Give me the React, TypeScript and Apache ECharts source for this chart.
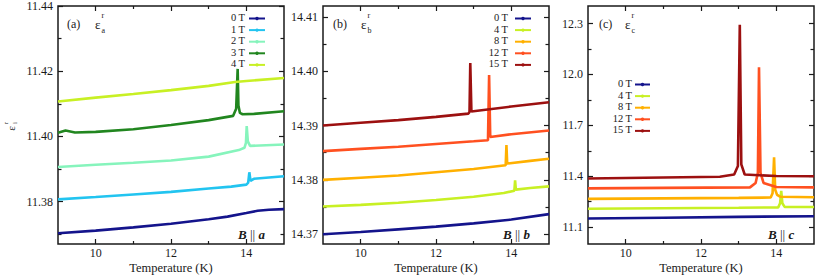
import React, { useEffect, useRef } from 'react';
import * as echarts from 'echarts';

const FONT = 'Liberation Serif, serif';
const INK = '#1a1a1a';

// ---------- shared x axis ----------
const xRange = [9, 15];
const xMajor = [10, 12, 14];
const xMinor = [11, 13];
const xTitle = 'Temperature (K)';

// ---------- panel (a): B || a ----------
const namesA = ['0 T', '1 T', '2 T', '3 T', '4 T'];
const colorsA = ['#14148c', '#22c4f0', '#86f4bc', '#21861f', '#c8f024'];
const yRangeA = [11.367, 11.44];
const yMajorA = [11.38, 11.4, 11.42, 11.44];
const yMinorA = [11.37, 11.39, 11.41, 11.43];

const tA0 = [9, 10, 11, 12, 13, 13.5, 14, 14.3, 14.6, 15];
const vA0 = [11.3703, 11.3711, 11.3721, 11.3732, 11.3746, 11.3754, 11.3765, 11.3772, 11.3775, 11.3777];
const tA1 = [9, 10, 11, 12, 13, 13.6, 14.0, 14.05, 14.08, 14.11, 14.2, 14.6, 15];
const vA1 = [11.3807, 11.3814, 11.3822, 11.383, 11.384, 11.3846, 11.3852, 11.3858, 11.389, 11.3864, 11.387, 11.3874, 11.3878];
const tA2 = [9, 10, 11, 12, 13, 13.8, 13.95, 13.99, 14.01, 14.04, 14.1, 15];
const vA2 = [11.3906, 11.3913, 11.3919, 11.3926, 11.3938, 11.3958, 11.3965, 11.398, 11.4032, 11.3985, 11.3971, 11.3975];
const tA3 = [9, 9.2, 9.45, 10, 11, 12, 13, 13.65, 13.73, 13.77, 13.79, 13.83, 13.9, 14.2, 15];
const vA3 = [11.4011, 11.4018, 11.4012, 11.4014, 11.4022, 11.4035, 11.405, 11.4063, 11.4085, 11.4207, 11.4095, 11.4072, 11.4068, 11.4069, 11.4077];
const tA4 = [9, 10, 11, 12, 13, 13.7, 14, 15];
const vA4 = [11.4107, 11.4119, 11.413, 11.4142, 11.4155, 11.4167, 11.417, 11.4179];

// ---------- panel (b): B || b ----------
const namesB = ['0 T', '4 T', '8 T', '12 T', '15 T'];
const colorsB = ['#14148c', '#c8f024', '#ffb000', '#ff5020', '#9c1010'];
const yRangeB = [14.3682, 14.412];
const yMajorB = [14.37, 14.38, 14.39, 14.4, 14.41];
const yMinorB = [14.375, 14.385, 14.395, 14.405];

const tB0 = [9, 10, 11, 12, 13, 14, 15];
const vB0 = [14.37, 14.3704, 14.3709, 14.3714, 14.372, 14.3727, 14.3737];
const tB4 = [9, 10, 11, 12, 13, 13.8, 14.08, 14.1, 14.12, 14.5, 15];
const vB4 = [14.3751, 14.3754, 14.3758, 14.3763, 14.3769, 14.3776, 14.378, 14.3799, 14.3782, 14.3785, 14.3788];
const tB8 = [9, 10, 11, 12, 13, 13.85, 13.87, 13.89, 14.5, 15];
const vB8 = [14.38, 14.3804, 14.3808, 14.3814, 14.382, 14.3827, 14.3864, 14.383, 14.3835, 14.3839];
const tB12 = [9, 10, 11, 12, 13, 13.38, 13.41, 13.44, 14, 15];
const vB12 = [14.3853, 14.3857, 14.3861, 14.3866, 14.3871, 14.3873, 14.3993, 14.3879, 14.3884, 14.3891];
const tB15 = [9, 10, 11, 12, 12.86, 12.89, 12.91, 12.94, 14, 15];
const vB15 = [14.39, 14.3905, 14.391, 14.3916, 14.3922, 14.3925, 14.4015, 14.3926, 14.3935, 14.3943];

// ---------- panel (c): B || c ----------
const namesC = ['0 T', '4 T', '8 T', '12 T', '15 T'];
const colorsC = ['#14148c', '#c8f024', '#ffb000', '#ff5020', '#9c1010'];
const yRangeC = [11.0, 12.404];
const yMajorC = [11.1, 11.4, 11.7, 12.0, 12.3];
const yMinorC = [11.25, 11.55, 11.85, 12.15];

const tC0 = [9, 11, 13, 15];
const vC0 = [11.15, 11.155, 11.16, 11.164];
const tC4 = [9, 11, 13, 14.05, 14.1, 14.13, 14.16, 14.22, 15];
const vC4 = [11.208, 11.211, 11.214, 11.216, 11.24, 11.314, 11.24, 11.219, 11.218];
const tC8 = [9, 11, 13, 13.85, 13.9, 13.94, 13.97, 14.02, 14.1, 15];
const vC8 = [11.266, 11.269, 11.272, 11.274, 11.3, 11.512, 11.32, 11.29, 11.279, 11.276];
const tC12 = [9, 11, 13.3, 13.45, 13.51, 13.54, 13.58, 13.66, 14, 15];
const vC12 = [11.328, 11.331, 11.334, 11.36, 11.42, 12.043, 11.42, 11.36, 11.336, 11.334];
const tC15 = [9, 11, 12.5, 12.88, 12.98, 13.03, 13.07, 13.16, 14, 15];
const vC15 = [11.386, 11.392, 11.397, 11.41, 11.46, 12.294, 11.47, 11.41, 11.401, 11.4];

const panels = [
  {
    left: 58, width: 226, names: namesA, colors: colorsA,
    yRange: yRangeA, yMajor: yMajorA, yMinor: yMinorA, digits: 2,
    t: [tA0, tA1, tA2, tA3, tA4], v: [vA0, vA1, vA2, vA3, vA4],
    tag: '(a)', sub: 'a', tagX: 67, epsX: 95,
    legendRight: 245, legendLine: [249, 265], legendY: 17.5, legendDy: 11.6,
    axisLetter: 'a', bX: 238,
  },
  {
    left: 323, width: 226, names: namesB, colors: colorsB,
    yRange: yRangeB, yMajor: yMajorB, yMinor: yMinorB, digits: 2,
    t: [tB0, tB4, tB8, tB12, tB15], v: [vB0, vB4, vB8, vB12, vB15],
    tag: '(b)', sub: 'b', tagX: 333, epsX: 361,
    legendRight: 508, legendLine: [515, 531], legendY: 17.5, legendDy: 11.6,
    axisLetter: 'b', bX: 503,
  },
  {
    left: 588, width: 226, names: namesC, colors: colorsC,
    yRange: yRangeC, yMajor: yMajorC, yMinor: yMinorC, digits: 1,
    t: [tC0, tC4, tC8, tC12, tC15], v: [vC0, vC4, vC8, vC12, vC15],
    tag: '(c)', sub: 'c', tagX: 599, epsX: 625,
    legendRight: 632, legendLine: [635, 650], legendY: 83.5, legendDy: 11.6,
    axisLetter: 'c', bX: 768,
  },
];

const TOP = 6;
const HEIGHT = 242;

const labelStyle = { fontFamily: FONT, fontSize: 12, color: INK };

function buildOption() {
  const grid: any[] = [];
  const xAxis: any[] = [];
  const yAxis: any[] = [];
  const series: any[] = [];
  const graphic: any[] = [];

  panels.forEach((p, gi) => {
    grid.push({
      left: p.left, top: TOP, width: p.width, height: HEIGHT,
      show: true, borderColor: INK, borderWidth: 1.5, backgroundColor: 'transparent',
    });
    const xb = {
      type: 'value', gridIndex: gi, min: xRange[0], max: xRange[1],
      axisLine: { show: false }, splitLine: { show: false },
    };
    const tick = (vals: number[], len: number) => ({
      show: true, inside: true, length: len, customValues: vals,
      lineStyle: { color: INK, width: 1.2 },
    });
    xAxis.push({
      ...xb, position: 'bottom', axisTick: tick(xMajor, 5),
      axisLabel: { ...labelStyle, customValues: xMajor, margin: 3 },
      name: xTitle, nameLocation: 'middle', nameGap: 17, nameMoveOverlap: false,
      nameTextStyle: { ...labelStyle, fontSize: 12.5 },
    });
    xAxis.push({ ...xb, position: 'bottom', axisTick: tick(xMinor, 3), axisLabel: { show: false } });
    xAxis.push({ ...xb, position: 'top', axisTick: tick(xMajor, 5), axisLabel: { show: false } });
    xAxis.push({ ...xb, position: 'top', axisTick: tick(xMinor, 3), axisLabel: { show: false } });

    const yb = {
      type: 'value', gridIndex: gi, min: p.yRange[0], max: p.yRange[1],
      axisLine: { show: false }, splitLine: { show: false }, scale: true,
    };
    yAxis.push({
      ...yb, position: 'left', axisTick: tick(p.yMajor, 5),
      axisLabel: {
        ...labelStyle, customValues: p.yMajor, margin: 5,
        formatter: (val: number) => val.toFixed(p.digits),
      },
    });
    yAxis.push({ ...yb, position: 'left', axisTick: tick(p.yMinor, 3.5), axisLabel: { show: false } });
    yAxis.push({ ...yb, position: 'right', axisTick: tick(p.yMajor, 5), axisLabel: { show: false } });
    yAxis.push({ ...yb, position: 'right', axisTick: tick(p.yMinor, 3.5), axisLabel: { show: false } });

    p.names.forEach((name, si) => {
      const ts = p.t[si];
      const vs = p.v[si];
      series.push({
        type: 'line', name, xAxisIndex: gi * 4, yAxisIndex: gi * 4,
        data: ts.map((t, k) => [t, vs[k]]),
        showSymbol: false, symbol: 'none', silent: true,
        lineStyle: { color: p.colors[si], width: 2.6 },
        z: 2 + si,
      });

      // legend sample (line + point) and label
      const ly = p.legendY + si * p.legendDy;
      graphic.push({
        type: 'line', silent: true,
        shape: { x1: p.legendLine[0], y1: ly + 1, x2: p.legendLine[1], y2: ly + 1 },
        style: { stroke: p.colors[si], lineWidth: 2 },
      });
      graphic.push({
        type: 'circle', silent: true,
        shape: { cx: (p.legendLine[0] + p.legendLine[1]) / 2, cy: ly + 1, r: 1.7 },
        style: { fill: p.colors[si] },
      });
      graphic.push({
        type: 'text', x: p.legendRight, y: ly, silent: true,
        style: {
          text: name, textAlign: 'right', textVerticalAlign: 'middle',
          fontFamily: FONT, fontSize: 10.5, fill: INK,
        },
      });
    });

    // panel tag "(a)  ε_a^r"
    graphic.push({
      type: 'text', x: p.tagX, y: 24, silent: true,
      style: { text: p.tag, textAlign: 'left', textVerticalAlign: 'middle', fontFamily: FONT, fontSize: 12, fill: INK },
    });
    graphic.push({
      type: 'text', x: p.epsX, y: 24, silent: true,
      style: { text: 'ε', textAlign: 'left', textVerticalAlign: 'middle', fontFamily: FONT, fontSize: 13, fill: INK },
    });
    graphic.push({
      type: 'text', x: p.epsX + 6.5, y: 15, silent: true,
      style: { text: 'r', textAlign: 'left', textVerticalAlign: 'middle', fontFamily: FONT, fontSize: 8, fill: INK },
    });
    graphic.push({
      type: 'text', x: p.epsX + 6.5, y: 30.5, silent: true,
      style: { text: p.sub, textAlign: 'left', textVerticalAlign: 'middle', fontFamily: FONT, fontSize: 8, fill: INK },
    });

    // "B || a"
    graphic.push({
      type: 'text', x: p.bX, y: 234, silent: true,
      style: {
        text: '{bi|B} {n|||} {bi|' + p.axisLetter + '}',
        textAlign: 'left', textVerticalAlign: 'middle',
        rich: {
          bi: { fontFamily: FONT, fontSize: 13, fontWeight: 'bold', fontStyle: 'italic', fill: INK },
          n: { fontFamily: FONT, fontSize: 13, fill: INK },
        },
        fontFamily: FONT, fontSize: 13, fill: INK,
      },
    });
  });

  // y axis title  ε_i^r  (rotated)
  graphic.push({
    type: 'group', x: 10.5, y: 128.5, rotation: Math.PI / 2, silent: true,
    children: [
      { type: 'text', x: 0, y: 0, style: { text: 'ε', textAlign: 'center', textVerticalAlign: 'middle', fontFamily: FONT, fontSize: 11, fill: INK } },
      { type: 'text', x: 5.5, y: -4.5, style: { text: 'r', textAlign: 'center', textVerticalAlign: 'middle', fontFamily: FONT, fontSize: 7, fill: INK } },
      { type: 'text', x: 5.5, y: 4, style: { text: 'i', textAlign: 'center', textVerticalAlign: 'middle', fontFamily: FONT, fontSize: 7, fill: INK } },
    ],
  });

  return {
    animation: false,
    backgroundColor: '#ffffff',
    textStyle: { fontFamily: FONT },
    grid, xAxis, yAxis, series, graphic,
  };
}

export default function App() {
  const ref = useRef<HTMLDivElement | null>(null);
  useEffect(() => {
    if (!ref.current) return;
    const chart = echarts.init(ref.current, undefined, { renderer: 'svg' });
    chart.setOption(buildOption() as any);
    return () => chart.dispose();
  }, []);
  return (
    <div
      ref={ref}
      style={{ position: 'fixed', left: 0, top: 0, width: 830, height: 279 }}
    />
  );
}
